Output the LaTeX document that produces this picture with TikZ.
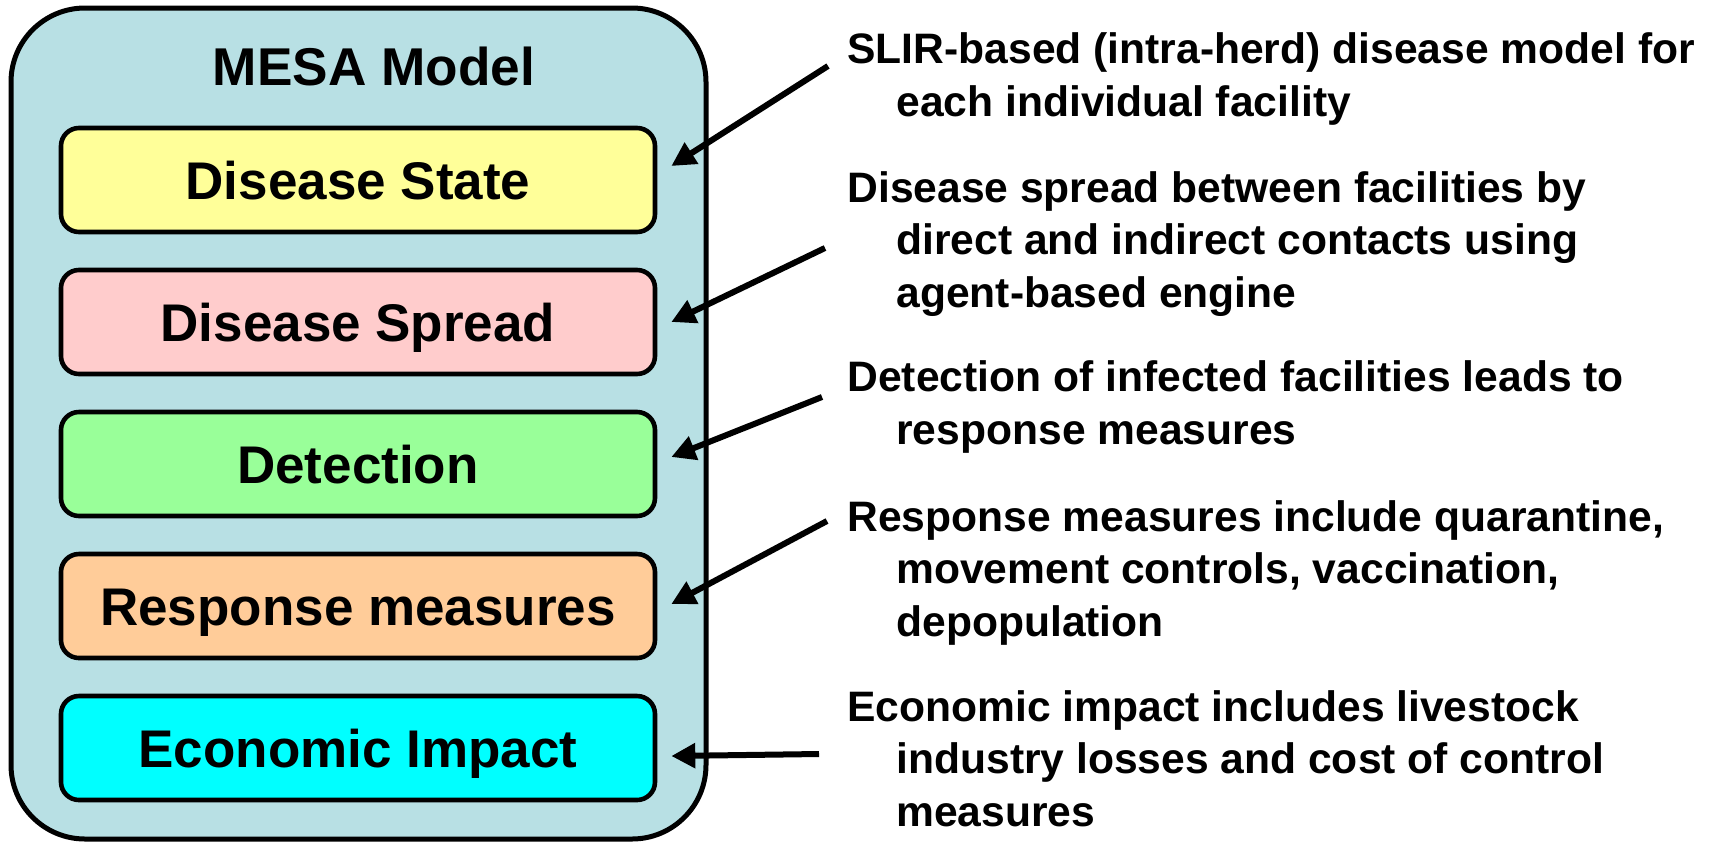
\documentclass[tikz,border=0pt]{standalone}
\usepackage{fontspec}
\setmainfont{Liberation Sans}
\usetikzlibrary{positioning, calc, arrows.meta}

\definecolor{panelblue}{RGB}{184,224,228}
\definecolor{stateyellow}{RGB}{255,255,153}
\definecolor{spreadpink}{RGB}{255,204,204}
\definecolor{detectgreen}{RGB}{153,255,153}
\definecolor{responseorange}{RGB}{255,204,153}
\definecolor{impactcyan}{RGB}{0,255,255}

\begin{document}
\begin{tikzpicture}[x=0.5pt, y=-0.5pt,
    layer/.style={draw, line width=2.3pt, rounded corners=9pt,
        minimum width=297pt, minimum height=52pt, inner sep=0pt,
        text height=19pt, text depth=0pt,
        font=\fontsize{26.5}{30}\selectfont\bfseries},
    note/.style={anchor=base west, align=left, inner sep=0pt,
        font=\fontsize{21.3}{26.2}\selectfont\bfseries},
    pointer/.style={-{Triangle[length=12pt,width=12pt]}, line width=3pt}]
                \useasboundingbox (0,0) rectangle (1713,842);

                % model panel
                \draw[fill=panelblue, line width=2.5pt, rounded corners=37pt] (11,8) rectangle (706,839);
                \node[font=\fontsize{26.6}{30}\selectfont\bfseries, anchor=base] (title) at (374,85) {MESA Model};

                \node[layer, fill=stateyellow]    (state)    at (358,180) {Disease State};
                \node[layer, fill=spreadpink]     (spread)   at (358,322) {Disease Spread};
                \node[layer, fill=detectgreen]    (detect)   at (358,464) {Detection};
                \node[layer, fill=responseorange] (response) at (358,606) {Response measures};
                \node[layer, fill=impactcyan]     (impact)   at (358,748) {Economic Impact};

                % descriptions (placed at the baseline of their last line)
                \node[note] (stateNote) at (847,116)
                    {SLIR-based (intra-herd) disease model for\\\hspace*{24.5pt}each individual facility};
                \node[note] (spreadNote) at (847,307)
                    {Disease spread between facilities by\\\hspace*{24.5pt}direct and indirect contacts using\\\hspace*{24.5pt}agent-based engine};
                \node[note] (detectNote) at (847,444)
                    {Detection of infected facilities leads to\\\hspace*{24.5pt}response measures};
                \node[note] (responseNote) at (847,636)
                    {Response measures include quarantine,\\\hspace*{24.5pt}movement controls, vaccination,\\\hspace*{24.5pt}depopulation};
                \node[note] (impactNote) at (847,826)
                    {Economic impact includes livestock\\\hspace*{24.5pt}industry losses and cost of control\\\hspace*{24.5pt}measures};

                \coordinate (s1) at (828,66);
                \coordinate (s2) at (825,248);
                \coordinate (s3) at (822,397);
                \coordinate (s4) at (827,521);
                \coordinate (s5) at (819,754);

                \draw[pointer] (s1) -- ($(state.east)+(14,-14)$);
                \draw[pointer] (s2) -- ($(spread.east)+(14,0)$);
                \draw[pointer] (s3) -- ($(detect.east)+(14,-7)$);
                \draw[pointer] (s4) -- ($(response.east)+(14,-2)$);
                \draw[pointer] (s5) -- ($(impact.east)+(14,8)$);
\end{tikzpicture}
\end{document}
